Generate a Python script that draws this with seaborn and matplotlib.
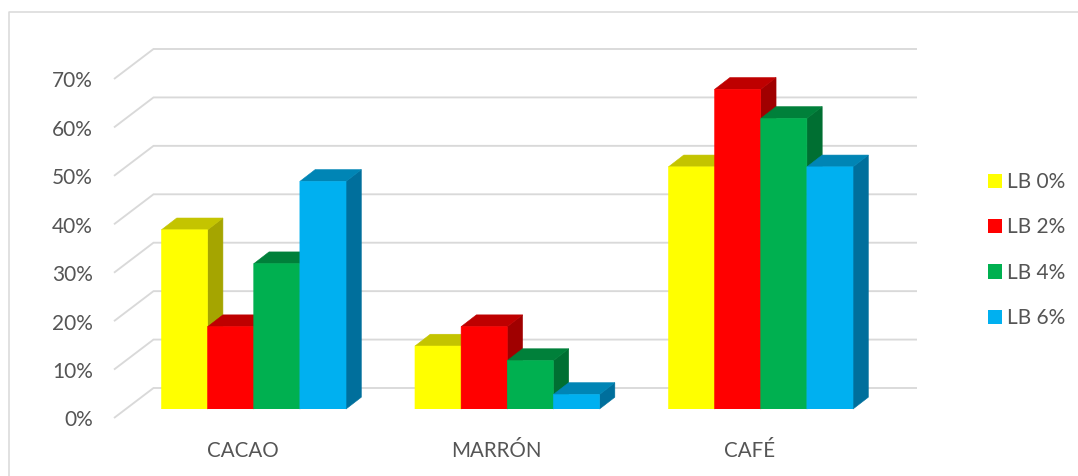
import matplotlib
matplotlib.use("Agg")
import matplotlib.pyplot as plt
import matplotlib.transforms as mtrans
from matplotlib.lines import Line2D
from matplotlib.patches import Polygon
import pandas as pd
import seaborn as sns

categories = ["CACAO", "MARRÓN", "CAFÉ"]
lb_0 = [37, 13, 50]
lb_2 = [17, 17, 66]
lb_4 = [30, 10, 60]
lb_6 = [47, 3, 50]
series_names = ["LB 0%", "LB 2%", "LB 4%", "LB 6%"]
front_colors = ["#FFFF00", "#FF0000", "#00B050", "#00B0F0"]
top_colors = ["#C4C400", "#BE0000", "#00803A", "#0085B5"]
side_colors = ["#A5A500", "#A00000", "#006F32", "#006F9C"]
y_ticks = [0, 10, 20, 30, 40, 50, 60, 70]
y_tick_labels = ["0%", "10%", "20%", "30%", "40%", "50%", "60%", "70%"]

W, H = 1078, 476
GREY = "#D9D9D9"
TXT = "#555555"

sns.set_theme(style="white")
plt.rcParams["font.family"] = ["Lato", "DejaVu Sans"]

df = pd.DataFrame({
    "cat": categories * 4,
    "serie": [s for s in series_names for _ in categories],
    "val": lb_0 + lb_2 + lb_4 + lb_6,
})

fig = plt.figure(figsize=(W / 100, H / 100), dpi=100, facecolor="white")
# axes box in pixels: x 127..887.5, y 70..409
ax = fig.add_axes([127 / W, (H - 409) / H, (887.5 - 127) / W, (409 - 70) / H])
sns.barplot(data=df, x="cat", y="val", hue="serie", order=categories,
            hue_order=series_names, palette=front_colors, width=0.728,
            gap=0, linewidth=0, saturation=1, ax=ax)
ax.set_xlim(-0.5, 2.5)
ax.set_ylim(0, 70)
ax.patch.set_visible(False)
sns.despine(ax=ax, left=True, bottom=True)
ax.set_xlabel("")
ax.set_ylabel("")

px_x = (887.5 - 127) / 3
px_y = (409 - 70) / 70

# wall and side gridlines (3D look)
x_back_l = -0.5 + 26.5 / px_x
x_back_r = -0.5 + (917 - 127) / px_x
x_front_l = -0.5 - 13 / px_x
off_back = 21 / px_y
off_front = -9 / px_y
for v in y_ticks:
    ax.plot([x_front_l, x_back_l, x_back_r],
            [v + off_front, v + off_back, v + off_back],
            color=GREY, lw=1.35, clip_on=False, zorder=1,
            solid_capstyle="butt", solid_joinstyle="miter")

# bar depth: top and right faces, painted left to right
dx = 15.3 / px_x
dy = 11.8 / px_y
bars = [p for p in ax.patches if p.get_height() > 0]
face_map = {}
for p in bars:
    color = matplotlib.colors.to_hex(p.get_facecolor())
    face_map[id(p)] = front_colors.index(color.upper())
bars = sorted(bars, key=lambda p: p.get_x())
for i, p in enumerate(bars):
    k = face_map[id(p)]
    x0, x1 = p.get_x(), p.get_x() + p.get_width()
    h = p.get_height()
    z = 3 + i * 0.1
    ax.add_patch(Polygon([(x1, 0), (x1 + dx, dy), (x1 + dx, h + dy), (x1, h)],
                         closed=True, facecolor=side_colors[k],
                         edgecolor=side_colors[k], lw=0.4,
                         clip_on=False, zorder=z))
    ax.add_patch(Polygon([(x0, h), (x0 + dx, h + dy), (x1 + dx, h + dy), (x1, h)],
                         closed=True, facecolor=top_colors[k],
                         edgecolor=top_colors[k], lw=0.4,
                         clip_on=False, zorder=z + 0.01))
    p.set_zorder(z + 0.02)
    p.set_snap(False)
    p.set_edgecolor(front_colors[k])
    p.set_linewidth(0.4)

# tick labels
ax.set_yticks(y_ticks)
ax.set_yticklabels(y_tick_labels)
ax.tick_params(axis="y", length=0, pad=24.5, labelsize=15, labelcolor=TXT)
ax.tick_params(axis="x", length=0, pad=23, labelsize=14.8, labelcolor=TXT)
shift_y = mtrans.ScaledTranslation(0, -9.5 / 100, fig.dpi_scale_trans)
shift_x = mtrans.ScaledTranslation(-11.3 / 100, 0, fig.dpi_scale_trans)
for lab in ax.get_yticklabels():
    lab.set_transform(lab.get_transform() + shift_y)
for lab in ax.get_xticklabels():
    lab.set_transform(lab.get_transform() + shift_x)

# legend
handles, labels = ax.get_legend_handles_labels()
ax.legend(handles, labels, loc="upper left",
          bbox_to_anchor=(988 / W, 1 - 172 / H), bbox_transform=fig.transFigure,
          frameon=False, fontsize=15, labelcolor=TXT, borderpad=0, borderaxespad=0,
          handlelength=0.672, handleheight=0.672, handletextpad=0.24,
          labelspacing=1.22)

# chart frame (only top and left edges are visible)
fig.add_artist(Line2D([8.5 / W, 8.5 / W, 1], [0, 1 - 12 / H, 1 - 12 / H],
                      color=GREY, lw=1.1, transform=fig.transFigure))

fig.savefig("out.png", dpi=100, facecolor="white")
